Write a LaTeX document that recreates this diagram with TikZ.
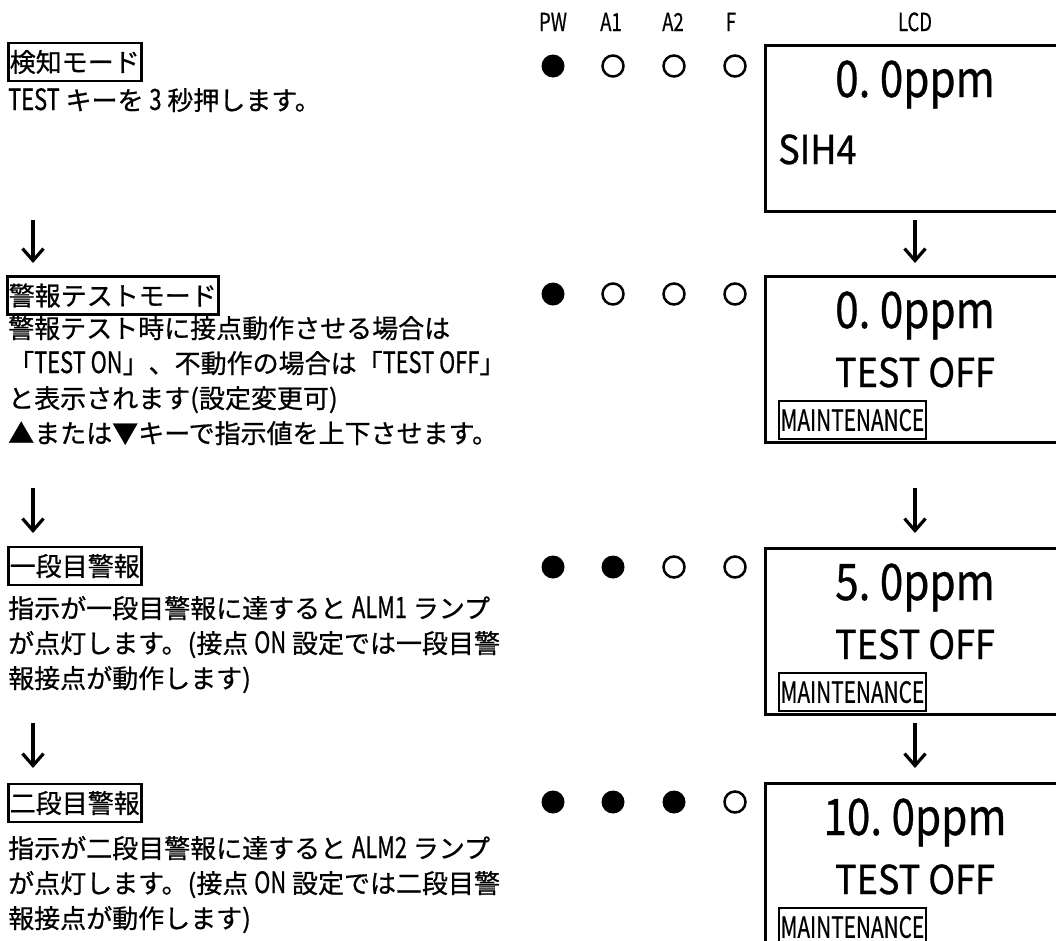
\documentclass[tikz,border=0pt]{standalone}
\usepackage{fontspec}
\setmainfont{Noto Sans CJK JP}[FakeBold=0.7]
\usepackage{graphicx}
\usetikzlibrary{arrows.meta}
\newcommand\nar[1]{\scalebox{0.84}[1.13]{#1}}
\newcommand\lcdnum[1]{\scalebox{0.88}[1.05]{#1}}
\newcommand\lcdmid[1]{\scalebox{0.95}[1.05]{#1}}
\newcommand\lcdsmall[1]{\scalebox{0.77}[1.08]{#1}}
\begin{document}
\begin{tikzpicture}[x=1pt,y=-1pt,
  body/.style={anchor=base west,inner sep=0pt,font=\fontsize{26}{35}\selectfont},
  headbox/.style={draw,line width=2.5pt,anchor=west,inner xsep=1.5pt,inner ysep=0pt,minimum height=38pt,font=\fontsize{26}{35}\selectfont},
  lbl/.style={anchor=base,inner sep=0pt,font=\fontsize{22}{24}\selectfont},
  lampon/.style={circle,fill=black,minimum size=23pt,inner sep=0pt},
  lampoff/.style={circle,draw=black,line width=2.5pt,minimum size=21pt,inner sep=0pt},
  lcdbox/.style={draw,line width=2.8pt,anchor=north west,minimum width=330pt,minimum height=166pt,inner sep=0pt},
  bignum/.style={anchor=base,inner sep=0pt,font=\fontsize{48}{50}\selectfont},
  midtxt/.style={anchor=base,inner sep=0pt,font=\fontsize{38}{40}\selectfont},
  maint/.style={draw,line width=2.2pt,anchor=north west,inner xsep=1.5pt,inner ysep=0pt,minimum height=38pt,font=\fontsize{27}{30}\selectfont},
  flow/.style={line width=3.2pt,-{Straight Barb[length=12pt,width=21pt]}}
]
\useasboundingbox (0,0) rectangle (1056,940);

% column labels
\node[lbl] (hpw) at (553,31) {\nar{PW}};
\node[lbl] (ha1) at (611,31) {\nar{A1}};
\node[lbl] (ha2) at (673,31) {\nar{A2}};
\node[lbl] (hf) at (731,31) {\nar{F}};
\node[lbl] (hlcd) at (915,31) {\nar{LCD}};

% ---------- step 1
\node[headbox] (h1) at (7,62) {検知モード};
\node[body] (t1a) at (8,110) {\nar{TEST} キーを \nar{3} 秒押します。};
\node[lampon] (p1) at (553,66) {};
\node[lampoff] (a11) at (613,66) {};
\node[lampoff] (a21) at (674,66) {};
\node[lampoff] (f1) at (735,66) {};
\node[lcdbox] (lcd1) at (764,44) {};
\node[bignum] (v1) at (915,97) {\lcdnum{0.\ 0ppm}};
\node[midtxt,anchor=base west] (g1) at (778,164) {\lcdmid{SIH4}};

% arrows 1
\coordinate (la1s) at (33,220);
\coordinate (la1e) at (33,263);
\coordinate (ra1s) at (915,220);
\coordinate (ra1e) at (915,263);
\draw[flow] (la1s) -- (la1e);
\draw[flow] (ra1s) -- (ra1e);

% ---------- step 2
\node[headbox] (h2) at (6,295.5) {警報テストモード};
\node[body] (t2a) at (8,338) {警報テスト時に接点動作させる場合は};
\node[body] (t2b) at (8,373) {「\nar{TEST ON}」、不動作の場合は「\nar{TEST OFF}」};
\node[body] (t2c) at (8,408) {と表示されます(設定変更可)};
\node[body] (t2d) at (8,443) {▲または▼キーで指示値を上下させます。};
\node[lampon] (p2) at (553,294) {};
\node[lampoff] (a12) at (613,294) {};
\node[lampoff] (a22) at (674,294) {};
\node[lampoff] (f2) at (735,294) {};
\node[lcdbox] (lcd2) at (764,275) {};
\node[bignum] (v2) at (915,328) {\lcdnum{0.\ 0ppm}};
\node[midtxt] (s2) at (915,387) {\lcdmid{TEST OFF}};
\node[maint] (m2) at (778,400) {\lcdsmall{MAINTENANCE}};

% arrows 2
\coordinate (la2s) at (33,488);
\coordinate (la2e) at (33,533);
\coordinate (ra2s) at (915,488);
\coordinate (ra2e) at (915,533);
\draw[flow] (la2s) -- (la2e);
\draw[flow] (ra2s) -- (ra2e);

% ---------- step 3
\node[headbox] (h3) at (7,566) {一段目警報};
\node[body] (t3a) at (8,618) {指示が一段目警報に達すると \nar{ALM1} ランプ};
\node[body] (t3b) at (8,653) {が点灯します。(接点 \nar{ON} 設定では一段目警};
\node[body] (t3c) at (8,688) {報接点が動作します)};
\node[lampon] (p3) at (553,567) {};
\node[lampon] (a13) at (613,567) {};
\node[lampoff] (a23) at (674,567) {};
\node[lampoff] (f3) at (735,567) {};
\node[lcdbox] (lcd3) at (764,547) {};
\node[bignum] (v3) at (915,600) {\lcdnum{5.\ 0ppm}};
\node[midtxt] (s3) at (915,659) {\lcdmid{TEST OFF}};
\node[maint] (m3) at (778,672) {\lcdsmall{MAINTENANCE}};

% arrows 3
\coordinate (la3s) at (33,723);
\coordinate (la3e) at (33,768);
\coordinate (ra3s) at (915,723);
\coordinate (ra3e) at (915,768);
\draw[flow] (la3s) -- (la3e);
\draw[flow] (ra3s) -- (ra3e);

% ---------- step 4
\node[headbox] (h4) at (7,803) {二段目警報};
\node[body] (t4a) at (8,858) {指示が二段目警報に達すると \nar{ALM2} ランプ};
\node[body] (t4b) at (8,893) {が点灯します。(接点 \nar{ON} 設定では二段目警};
\node[body] (t4c) at (8,928) {報接点が動作します)};
\node[lampon] (p4) at (553,802) {};
\node[lampon] (a14) at (613,802) {};
\node[lampon] (a24) at (674,802) {};
\node[lampoff] (f4) at (735,802) {};
\node[lcdbox] (lcd4) at (764,782) {};
\node[bignum] (v4) at (915,835) {\lcdnum{10.\ 0ppm}};
\node[midtxt] (s4) at (915,894) {\lcdmid{TEST OFF}};
\node[maint] (m4) at (778,907) {\lcdsmall{MAINTENANCE}};
\end{tikzpicture}
\end{document}
